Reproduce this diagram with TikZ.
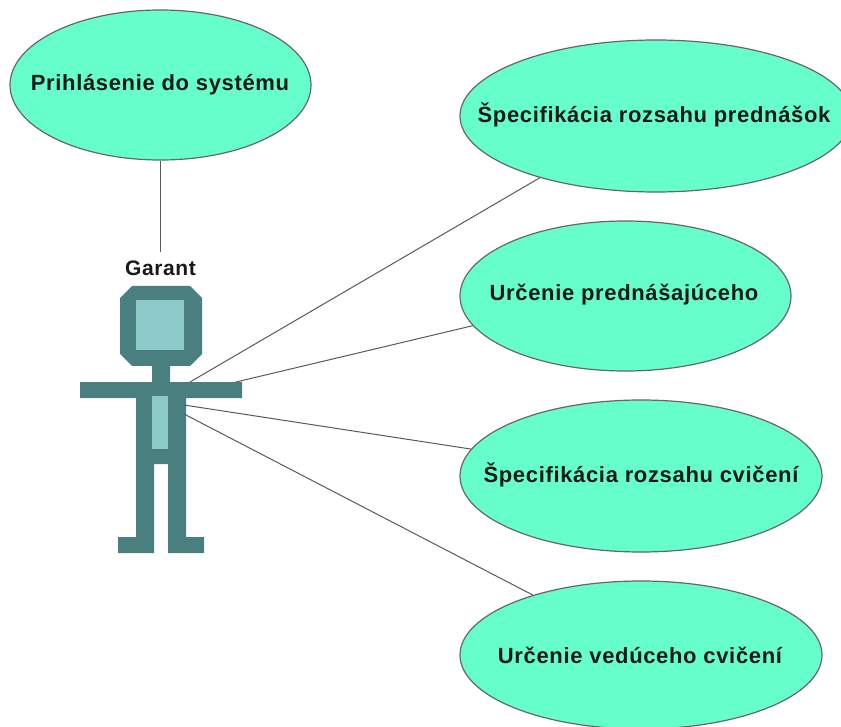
\documentclass[tikz,border=0pt]{standalone}
\usepackage{fontspec}
\setmainfont{Liberation Sans}
\newfontfamily\lblfont[LetterSpace=3]{Liberation Sans}
\usetikzlibrary{shapes.geometric}
\definecolor{uc}{HTML}{66FFCC}
\definecolor{actd}{HTML}{4A7F7F}
\definecolor{actl}{HTML}{8FCACA}
\tikzset{x=1pt,y=-1pt,
 usecase/.style={ellipse,draw=black!60,line width=1.2pt,fill=uc,inner sep=0pt},
 uctext/.style={inner sep=0pt,text=black!90,font=\lblfont\bfseries\fontsize{22}{24}\selectfont},
 conn/.style={draw=black!65,line width=1pt},
 actdark/.style={fill=actd,draw=none},
 actlight/.style={fill=actl,draw=none}}
\begin{document}
\begin{tikzpicture}
\useasboundingbox (0,0) rectangle (841,727);
\begin{scope}
\clip (0,0) rectangle (841,727);
\node[usecase,minimum width=301pt,minimum height=150pt] (login) at (160.5,85) {};
\node[usecase,minimum width=392pt,minimum height=152pt] (spec1) at (656,116) {};
\node[usecase,minimum width=331pt,minimum height=150pt] (urc1) at (625.5,296) {};
\node[usecase,minimum width=362pt,minimum height=152pt] (spec2) at (641,476) {};
\node[usecase,minimum width=362pt,minimum height=148pt] (urc2) at (641,655) {};
\end{scope}
\node[uctext] (tlogin) at (160,85) {Prihlásenie do systému};
\node[uctext] (tspec1) at (654,115) {Špecifikácia rozsahu prednášok};
\node[uctext] (turc1) at (624,295) {Určenie prednášajúceho};
\node[uctext] (tspec2) at (641,475) {Špecifikácia rozsahu cvičení};
\node[uctext] (turc2) at (640,655) {Určenie vedúceho cvičení};
\node[uctext,font=\lblfont\bfseries\fontsize{21}{23}\selectfont] (garant) at (160.5,268) {Garant};
% actor
\path[actdark] (132,286) -- (190,286) -- (202,298) -- (202,354) -- (190,366) -- (170,366) -- (170,382) -- (242,382) -- (242,398) -- (186,398) -- (186,537) -- (204,537) -- (204,553) -- (168,553) -- (168,464) -- (154,464) -- (154,553) -- (118,553) -- (118,537) -- (136,537) -- (136,398) -- (80,398) -- (80,382) -- (152,382) -- (152,366) -- (132,366) -- (120,354) -- (120,298) -- cycle;
\path[actlight] (136,300) rectangle (184,350);
\path[actlight] (152,396) rectangle (168,449);
\coordinate (a1) at (190,382);
\coordinate (a2) at (236,382);
\coordinate (a3) at (184,405);
\coordinate (a4) at (184,414);
\coordinate (g) at (160.5,252);
\draw[conn] (login.south) -- (g);
\draw[conn] (a1) -- (spec1.208);
\draw[conn] (a2) -- (urc1.191.85);
\draw[conn] (a3) -- (spec2.171);
\draw[conn] (a4) -- (urc2.151.25);
\end{tikzpicture}
\end{document}
